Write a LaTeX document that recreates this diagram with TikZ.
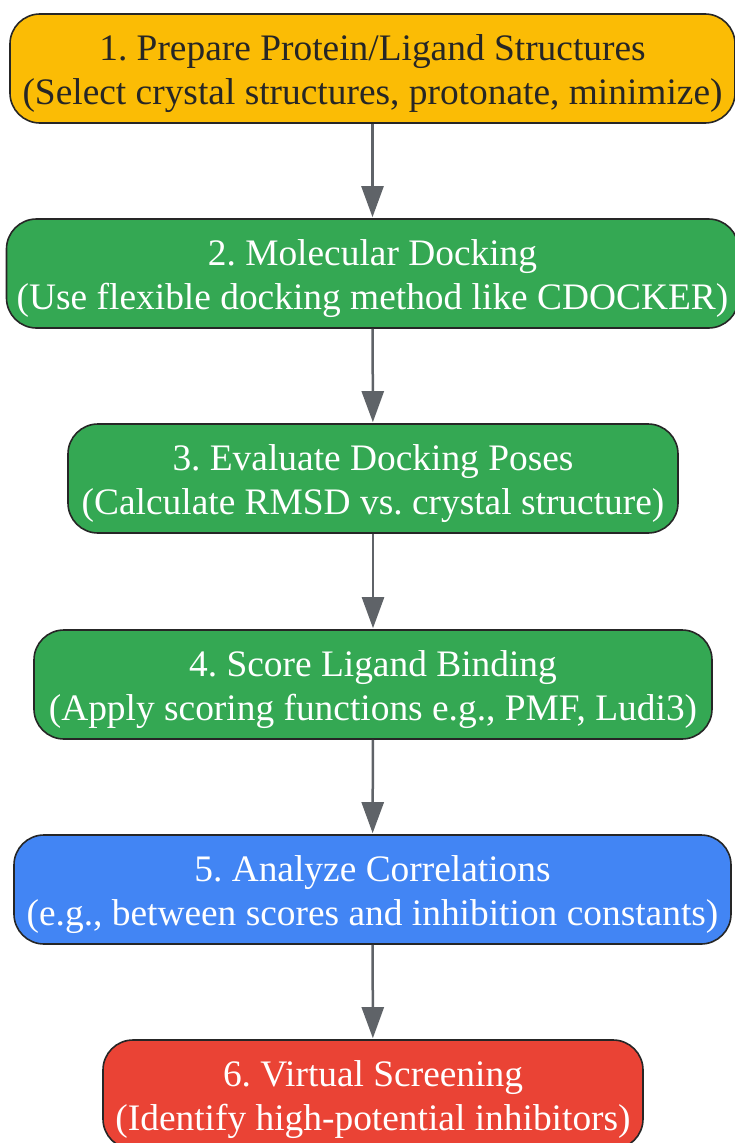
\documentclass[tikz,border=0pt]{standalone}
\usepackage{fontspec}
\setmainfont{Liberation Serif}
\usetikzlibrary{arrows.meta}

\definecolor{stepyellow}{HTML}{FBBC05}
\definecolor{stepgreen}{HTML}{34A853}
\definecolor{stepblue}{HTML}{4285F4}
\definecolor{stepred}{HTML}{EA4335}
\definecolor{edgegray}{HTML}{5F6368}
\definecolor{borderdark}{HTML}{262626}

% two-line step text with fixed line metrics
\newcommand{\steptext}[2]{\rule{0pt}{36.4pt}#1\\#2\rule[-8pt]{0pt}{8pt}}

\tikzset{
stepbox/.style={
  rectangle,
  rounded corners=30pt,
  draw=borderdark,
  line width=1.6pt,
  align=center,
  minimum height=109pt,
  inner sep=0pt,
  font=\fontsize{37.4}{44}\selectfont\frenchspacing,
},
flow/.style={
  draw=edgegray,
  line width=2.5pt,
  -{Triangle[width=22pt,length=31pt]},
  shorten >=1pt,
},
}

\begin{document}
\begin{tikzpicture}[x=1pt, y=-1pt]
\useasboundingbox (0,0) rectangle (735,1143);
%steps
\node[stepbox, fill=stepyellow, text=black!85, minimum width=725pt](prepare) at (372.5,68.5)
  {\steptext{1. Prepare Protein/Ligand Structures}{(Select crystal structures, protonate, minimize)}};
\node[stepbox, fill=stepgreen, text=white, minimum width=732pt](docking) at (372.5,273.5)
  {\steptext{2. Molecular Docking}{(Use flexible docking method like CDOCKER)}};
\node[stepbox, fill=stepgreen, text=white, minimum width=610pt](poses) at (373,478.5)
  {\steptext{3. Evaluate Docking Poses}{(Calculate RMSD vs. crystal structure)}};
\node[stepbox, fill=stepgreen, text=white, minimum width=678pt](scoring) at (373,684.5)
  {\steptext{4. Score Ligand Binding}{(Apply scoring functions e.g., PMF, Ludi3)}};
\node[stepbox, fill=stepblue, text=white, minimum width=717pt](correl) at (372.5,889.5)
  {\steptext{5. Analyze Correlations}{(e.g., between scores and inhibition constants)}};
\node[stepbox, fill=stepred, text=white, minimum width=540pt](screening) at (373,1094.5)
  {\steptext{6. Virtual Screening}{(Identify high-potential inhibitors)}};

%arrows
\draw[flow](prepare) -- (docking);
\draw[flow](docking) -- (poses);
\draw[flow](poses) -- (scoring);
\draw[flow](scoring) -- (correl);
\draw[flow](correl) -- (screening);

\end{tikzpicture}
\end{document}
